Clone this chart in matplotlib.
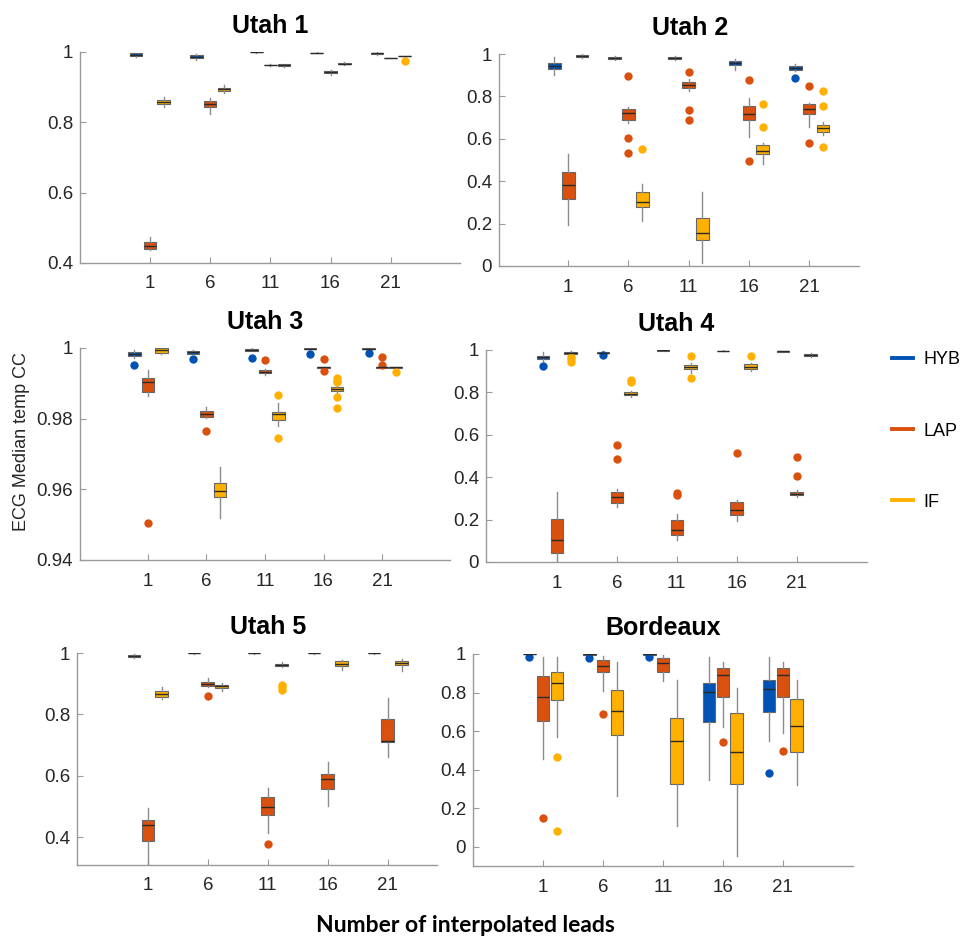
import matplotlib
matplotlib.use('Agg')
import matplotlib.pyplot as plt
from matplotlib.lines import Line2D
from matplotlib.ticker import FormatStrFormatter

plt.rcParams['font.family'] = ['Liberation Sans', 'DejaVu Sans']

leads = ['1', '6', '11', '16', '21']
methods = ['HYB', 'LAP', 'IF']
colors = ['#0052b4', '#d9500f', '#ffb000']

# each box: (whisker low, q1, median, q3, whisker high), one per lead group
u1_hyb = [(0.985, 0.988, 0.991, 0.996, 0.998), (0.978, 0.982, 0.987, 0.992, 0.995),
          (0.9985, 0.9988, 0.999, 0.9993, 0.9995), (0.9975, 0.9978, 0.998, 0.9983, 0.9986),
          (0.992, 0.993, 0.996, 0.998, 0.999)]
u1_hyb_out = [[], [], [], [], []]
u1_lap = [(0.438, 0.440, 0.449, 0.459, 0.474), (0.825, 0.844, 0.853, 0.861, 0.870),
          (0.961, 0.962, 0.963, 0.964, 0.965), (0.935, 0.940, 0.943, 0.946, 0.948),
          (0.982, 0.9825, 0.983, 0.9835, 0.984)]
u1_lap_out = [[], [], [], [], []]
u1_if = [(0.844, 0.852, 0.857, 0.863, 0.872), (0.884, 0.889, 0.894, 0.899, 0.905),
         (0.958, 0.959, 0.962, 0.965, 0.966), (0.963, 0.965, 0.967, 0.970, 0.971),
         (0.988, 0.9885, 0.989, 0.9895, 0.990)]
u1_if_out = [[], [], [], [], [0.974]]

u2_hyb = [(0.90, 0.929, 0.945, 0.959, 0.987), (0.972, 0.975, 0.981, 0.987, 0.992),
          (0.972, 0.976, 0.980, 0.984, 0.990), (0.924, 0.948, 0.959, 0.969, 0.976),
          (0.918, 0.924, 0.935, 0.945, 0.951)]
u2_hyb_out = [[], [], [], [], [0.885]]
u2_lap = [(0.195, 0.315, 0.384, 0.444, 0.528), (0.676, 0.688, 0.720, 0.740, 0.751),
          (0.827, 0.838, 0.855, 0.869, 0.880), (0.609, 0.688, 0.717, 0.757, 0.794),
          (0.657, 0.717, 0.739, 0.762, 0.770)]
u2_lap_out = [[], [0.896, 0.605, 0.534], [0.915, 0.735, 0.691], [0.877, 0.496], [0.850, 0.581]]
u2_if = [(0.980, 0.984, 0.990, 0.995, 0.998), (0.213, 0.279, 0.302, 0.350, 0.386),
         (0.016, 0.124, 0.157, 0.228, 0.350), (0.483, 0.528, 0.542, 0.570, 0.581),
         (0.620, 0.633, 0.649, 0.665, 0.677)]
u2_if_out = [[], [0.550], [], [0.762, 0.657], [0.827, 0.754, 0.559]]

u3_hyb = [(0.9972, 0.9977, 0.9984, 0.9989, 0.9995), (0.9983, 0.9984, 0.9988, 0.9991, 0.9993),
          (0.9991, 0.9992, 0.9995, 0.9998, 0.9999), (0.9997, 0.9997, 0.9998, 0.9999, 0.9999),
          (0.9997, 0.9997, 0.9998, 0.9999, 0.9999)]
u3_hyb_out = [[0.9951], [0.9970], [0.9972], [0.9984], [0.9986]]
u3_lap = [(0.9863, 0.9875, 0.9903, 0.9915, 0.9939), (0.9802, 0.9806, 0.9813, 0.9822, 0.9832),
          (0.9923, 0.9929, 0.9933, 0.9937, 0.9940), (0.9944, 0.99445, 0.9945, 0.99455, 0.9946),
          (0.9944, 0.99445, 0.9945, 0.99455, 0.9946)]
u3_lap_out = [[0.9504], [0.9766], [0.9965], [0.9969, 0.9936], [0.9974, 0.9953]]
u3_if = [(0.9983, 0.9987, 0.9993, 0.99995, 1.0), (0.9518, 0.9577, 0.9596, 0.9619, 0.9662),
         (0.9778, 0.9797, 0.9813, 0.9820, 0.9844), (0.9872, 0.9879, 0.9884, 0.9889, 0.9896),
         (0.9944, 0.99445, 0.9945, 0.99455, 0.9946)]
u3_if_out = [[], [], [0.9867, 0.9744], [0.9915, 0.9908, 0.9903, 0.9861, 0.9830], [0.9932]]

u4_hyb = [(0.948, 0.956, 0.965, 0.973, 0.989), (0.982, 0.984, 0.988, 0.992, 0.994),
          (0.997, 0.9975, 0.998, 0.9985, 0.999), (0.996, 0.9965, 0.997, 0.9975, 0.998),
          (0.991, 0.992, 0.994, 0.996, 0.997)]
u4_hyb_out = [[0.924], [0.976], [], [], []]
u4_lap = [(0.0, 0.044, 0.106, 0.205, 0.331), (0.260, 0.280, 0.307, 0.331, 0.343),
          (0.106, 0.126, 0.150, 0.197, 0.228), (0.192, 0.220, 0.244, 0.283, 0.294),
          (0.307, 0.315, 0.323, 0.329, 0.339)]
u4_lap_out = [[], [0.551, 0.488], [0.326, 0.315], [0.512], [0.496, 0.406]]
u4_if = [(0.976, 0.981, 0.987, 0.992, 0.997), (0.780, 0.787, 0.794, 0.802, 0.808),
         (0.893, 0.909, 0.918, 0.929, 0.940), (0.902, 0.910, 0.921, 0.932, 0.940),
         (0.965, 0.973, 0.976, 0.980, 0.984)]
u4_if_out = [[0.965, 0.956, 0.945], [0.858, 0.850], [0.973, 0.866], [0.972], []]

u5_hyb = [(0.984, 0.988, 0.991, 0.994, 0.997), (0.998, 0.9985, 0.999, 0.9995, 1.0),
          (0.998, 0.9985, 0.999, 0.9995, 1.0), (0.998, 0.9985, 0.999, 0.9995, 1.0),
          (0.998, 0.9985, 0.999, 0.9995, 1.0)]
u5_hyb_out = [[], [], [], [], []]
u5_lap = [(0.30, 0.389, 0.440, 0.457, 0.497), (0.890, 0.892, 0.899, 0.907, 0.919),
          (0.413, 0.472, 0.498, 0.531, 0.559), (0.501, 0.557, 0.589, 0.605, 0.646),
          (0.663, 0.710, 0.714, 0.786, 0.854)]
u5_lap_out = [[], [0.861], [0.377], [], []]
u5_if = [(0.849, 0.856, 0.866, 0.875, 0.890), (0.877, 0.885, 0.891, 0.896, 0.901),
         (0.955, 0.957, 0.961, 0.965, 0.972), (0.944, 0.957, 0.964, 0.973, 0.978),
         (0.942, 0.960, 0.968, 0.975, 0.981)]
u5_if_out = [[], [], [0.897, 0.890, 0.881], [], []]

bx_hyb = [(0.997, 0.998, 0.999, 1.0, 1.0), (0.994, 0.995, 0.998, 1.0, 1.0),
          (0.996, 0.997, 0.999, 1.0, 1.0), (0.346, 0.645, 0.803, 0.851, 0.986),
          (0.548, 0.701, 0.818, 0.865, 0.983)]
bx_hyb_out = [[0.983], [0.978], [0.986], [], [0.381]]
bx_lap = [(0.453, 0.654, 0.779, 0.888, 0.983), (0.810, 0.905, 0.938, 0.969, 0.990),
          (0.860, 0.907, 0.952, 0.981, 0.995), (0.623, 0.779, 0.889, 0.927, 0.960),
          (0.592, 0.779, 0.889, 0.927, 0.960)]
bx_lap_out = [[0.151], [0.687], [], [0.545], [0.497]]
bx_if = [(0.567, 0.761, 0.848, 0.908, 0.983), (0.265, 0.581, 0.704, 0.813, 0.960),
         (0.109, 0.325, 0.550, 0.670, 0.865), (-0.047, 0.324, 0.490, 0.692, 0.822),
         (0.320, 0.493, 0.628, 0.766, 0.865)]
bx_if_out = [[0.464, 0.083], [], [], [], []]

W, H = 962, 943
fig = plt.figure(figsize=(W / 100, H / 100), dpi=100)

def to_stats(boxes, outs):
    st = []
    for b, o in zip(boxes, outs):
        st.append(dict(whislo=b[0], q1=b[1], med=b[2], q3=b[3], whishi=b[4], fliers=o))
    return st

# title, data, ylim, yticks, pixel box (left, top, right, bottom), xlim, title x
panels = [
    ('Utah 1', [(u1_hyb, u1_hyb_out), (u1_lap, u1_lap_out), (u1_if, u1_if_out)],
     (0.4, 1.0), [0.4, 0.6, 0.8, 1.0], (80, 52, 460, 263), (-0.16, 6.15), 0.5),
    ('Utah 2', [(u2_hyb, u2_hyb_out), (u2_lap, u2_lap_out), (u2_if, u2_if_out)],
     (0.0, 1.0), [0, 0.2, 0.4, 0.6, 0.8, 1.0], (499, 54, 859, 266), (-0.15, 5.83), 0.53),
    ('Utah 3', [(u3_hyb, u3_hyb_out), (u3_lap, u3_lap_out), (u3_if, u3_if_out)],
     (0.94, 1.0), [0.94, 0.96, 0.98, 1.0], (80, 348, 450, 560), (-0.16, 6.16), 0.5),
    ('Utah 4', [(u4_hyb, u4_hyb_out), (u4_lap, u4_lap_out), (u4_if, u4_if_out)],
     (0.0, 1.0), [0, 0.2, 0.4, 0.6, 0.8, 1.0], (486, 350, 867, 562), (-0.18, 6.17), 0.5),
    ('Utah 5', [(u5_hyb, u5_hyb_out), (u5_lap, u5_lap_out), (u5_if, u5_if_out)],
     (0.31, 1.0), [0.4, 0.6, 0.8, 1.0], (77, 653, 437, 865), (-0.18, 5.82), 0.53),
    ('Bordeaux', [(bx_hyb, bx_hyb_out), (bx_lap, bx_lap_out), (bx_if, bx_if_out)],
     (-0.1, 1.0), [0, 0.2, 0.4, 0.6, 0.8, 1.0], (473, 654, 853, 866), (-0.17, 6.17), 0.5),
]

offsets = [-0.23, 0.0, 0.23]
axis_grey = '#9a9a9a'

for title, data, ylim, yticks, pix, xlim, tx in panels:
    l, t, r, b = pix
    ax = fig.add_axes([l / W, 1 - b / H, (r - l) / W, (b - t) / H])
    for k, (boxes, outs) in enumerate(data):
        pos = [i + 1 + offsets[k] for i in range(len(leads))]
        ax.bxp(to_stats(boxes, outs), positions=pos, widths=0.21,
               patch_artist=True, showcaps=False,
               boxprops=dict(facecolor=colors[k], edgecolor='#666666', linewidth=0.8),
               medianprops=dict(color='#2a2a2a', linewidth=1.0),
               whiskerprops=dict(color='#8c8c8c', linewidth=1.0),
               flierprops=dict(marker='o', markerfacecolor=colors[k],
                               markeredgecolor='none', markersize=6))
    ax.set_xlim(*xlim)
    ax.set_ylim(*ylim)
    ax.set_xticks(range(1, len(leads) + 1))
    ax.set_xticklabels(leads)
    ax.set_yticks(yticks)
    ax.yaxis.set_major_formatter(FormatStrFormatter('%g'))
    for s in ['top', 'right']:
        ax.spines[s].set_visible(False)
    for s in ['left', 'bottom']:
        ax.spines[s].set_color(axis_grey)
        ax.spines[s].set_linewidth(1.0)
    ax.tick_params(direction='in', length=4, color=axis_grey, labelsize=13.5,
                   labelcolor='#262626')
    ax.tick_params(axis='x', pad=9)
    ax.tick_params(axis='y', pad=5)
    ax.set_title(title, fontsize=18, fontweight='bold', x=tx, pad=14)

handles = [Line2D([0], [0], color=c, lw=2.8) for c in colors]
fig.legend(handles, methods, loc='center left', bbox_to_anchor=(892 / W, 1 - 431 / H),
           frameon=False, fontsize=13, labelspacing=3.0, handlelength=1.15,
           handletextpad=0.6, borderpad=0, borderaxespad=0)

fig.text(22 / W, 1 - 442 / H, 'ECG Median temp CC', rotation=90, fontsize=13,
         ha='center', va='center', color='#262626')
fig.text(465 / W, 1 - 926 / H, 'Number of interpolated leads', fontsize=16.5,
         fontweight='bold', family=['Lato', 'DejaVu Sans'], ha='center', va='center')

fig.savefig('out.png', dpi=100)
